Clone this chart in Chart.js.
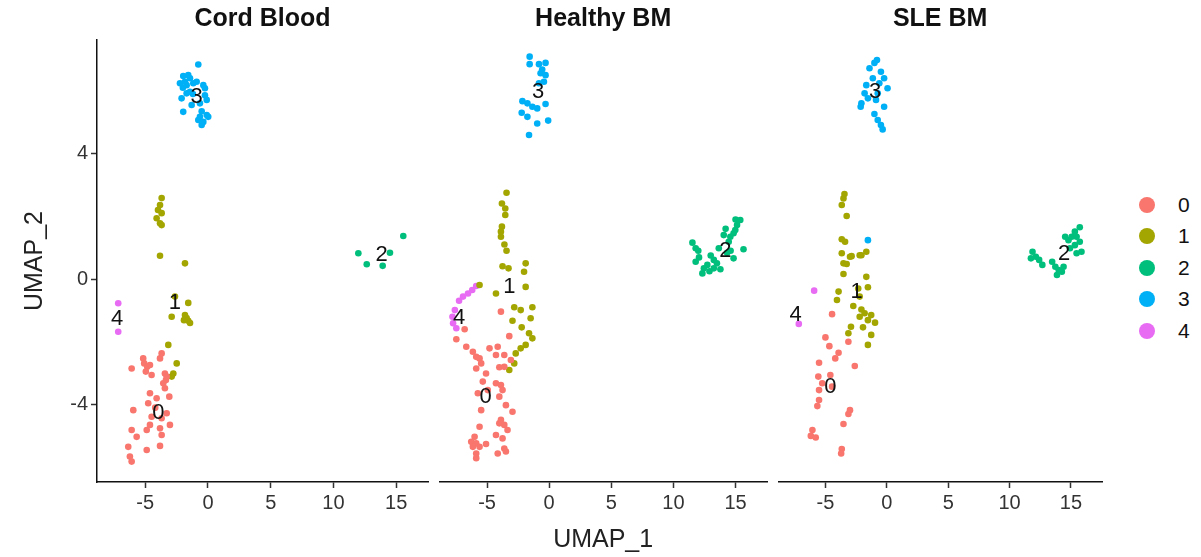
<!DOCTYPE html>
<html>
<head>
<meta charset="utf-8">
<script src="https://cdn.jsdelivr.net/npm/chart.js@4.4.1/dist/chart.umd.min.js"></script>
<style>
  html, body { margin: 0; padding: 0; background: #fff; }
  #wrap { position: relative; width: 1201px; height: 557px; overflow: hidden; font-family: 'Liberation Sans', Arial, sans-serif; }
  .panel { position: absolute; top: 0; }
  #legend { position: absolute; left: 1139px; top: 189px; }
  .key { display: flex; align-items: center; height: 31.5px; }
  .dot { width: 16px; height: 16px; border-radius: 50%; margin-right: 23px; }
  .key span { font-size: 21px; color: #111; }
</style>
</head>
<body>
<div id="wrap">
  <canvas id="p0" class="panel" style="left:0px" width="440" height="557"></canvas>
  <canvas id="p1" class="panel" style="left:436px" width="340" height="557"></canvas>
  <canvas id="p2" class="panel" style="left:775px" width="340" height="557"></canvas>
  <div id="legend"></div>
</div>
<script>
// Facets, clusters and axis ticks
const panelTitles = ['Cord Blood', 'Healthy BM', 'SLE BM'];
const clusters = ['0', '1', '2', '3', '4'];
const clusterColors = ['#F8766D', '#A3A500', '#00BF7D', '#00B0F6', '#E76BF3'];
const xTicks = [-5, 0, 5, 10, 15];
const yTicks = [-4, 0, 4];
const xRange = [-8.84, 17.53];
const yRange = [-6.47, 7.62];

// Cord Blood cells, one array per cluster: [UMAP_1, UMAP_2]
const cord0 = [[-6.08,-2.85],[-5.16,-2.53],[-5.08,-2.69],[-4.84,-2.80],[-4.62,-2.74],[-4.49,-3.06],[-3.82,-2.53],
  [-3.69,-2.37],[-3.43,-3.01],[-3.35,-3.22],[-3.56,-3.32],[-3.43,-3.48],[-3.08,-3.75],[-4.62,-3.64],[-4.09,-3.80],
  [-4.76,-3.96],[-5.95,-4.18],[-3.29,-4.28],[-4.49,-4.39],[-3.69,-4.44],[-3.03,-4.65],[-4.62,-4.65],[-4.88,-4.81],
  [-6.08,-4.81],[-3.82,-4.76],[-5.68,-5.03],[-3.69,-4.97],[-6.35,-5.35],[-4.88,-5.45],[-3.82,-5.32],[-6.22,-5.66],
  [-6.08,-5.82],[-3.29,-3.11],[-4.95,-2.95],[-4.20,-4.10]];
const cord1 = [[-3.69,2.58],[-3.82,2.36],[-3.98,2.20],[-3.69,2.10],[-4.09,1.94],[-3.82,1.78],[-3.69,1.72],[-3.82,0.74],
  [-1.83,0.50],[-2.63,-0.56],[-1.57,-0.76],[-2.89,-1.20],[-1.83,-1.15],[-1.70,-1.24],[-1.57,-1.33],[-1.43,-1.40],
  [-1.91,-1.31],[-3.16,-2.10],[-2.49,-2.69],[-2.76,-3.01],[-2.89,-3.11]];
const cord2 = [[11.98,0.82],[12.65,0.47],[13.92,0.42],[14.50,0.84],[15.56,1.37]];
const cord3 = [[-0.77,6.84],[-1.97,6.47],[-1.57,6.50],[-1.43,6.40],[-1.83,6.29],[-2.23,6.24],[-1.70,6.18],[-1.17,6.24],
  [-0.90,6.29],[-0.37,6.18],[-0.24,6.08],[-2.10,5.76],[-1.70,5.92],[-1.43,5.97],[-0.24,5.86],[-0.10,5.71],[-1.97,5.33],
  [-1.30,5.55],[-0.64,5.60],[-0.77,5.07],[-0.37,5.01],[-0.10,5.23],[-0.50,4.91],[-0.64,5.17],[0.02,5.17],[-2.00,6.10],
  [-1.20,5.90],[-0.50,5.35]];
const cord4 = [[-7.15,-0.77],[-7.15,-1.68]];
const cordSpots = [[-3.96,-4.28],[-2.63,-0.77],[13.84,0.76],[-0.90,5.80],[-7.23,-1.28]];

// Healthy BM cells
const healthy0 = [[-3.88,-1.04],[-3.21,-1.82],[-6.80,-1.60],[-7.47,-1.92],[-6.67,-2.16],[-6.14,-2.32],[-5.87,-2.48],
  [-5.60,-2.53],[-5.47,-2.69],[-4.80,-2.21],[-4.14,-2.16],[-4.28,-2.42],[-3.61,-2.42],[-3.08,-2.58],[-4.01,-2.81],
  [-3.61,-2.80],[-5.87,-2.85],[-5.08,-3.01],[-5.34,-3.27],[-4.28,-3.32],[-3.88,-3.38],[-3.75,-3.54],[-4.94,-3.54],
  [-5.74,-3.64],[-4.01,-3.75],[-3.48,-4.02],[-2.95,-4.23],[-5.47,-4.18],[-3.88,-4.49],[-4.01,-4.60],[-3.61,-4.65],
  [-3.35,-4.81],[-5.60,-4.71],[-4.28,-4.97],[-3.75,-5.08],[-6.00,-5.03],[-6.27,-5.19],[-5.87,-5.24],[-6.14,-5.35],
  [-5.60,-5.35],[-5.08,-5.26],[-3.61,-5.40],[-3.48,-5.50],[-5.87,-5.56],[-5.87,-5.71],[-4.14,-5.56]];
const healthy1 = [[-3.43,2.75],[-3.80,2.41],[-3.53,2.25],[-3.53,2.04],[-3.80,1.67],[-3.88,1.51],[-3.88,1.35],[-3.43,0.90],
  [-3.60,1.10],[-3.75,0.41],[-3.27,0.34],[-1.89,0.50],[-2.02,0.23],[-5.60,-0.19],[-4.28,-0.46],[-1.89,-0.25],
  [-2.81,-0.90],[-2.29,-0.99],[-1.35,-0.90],[-2.95,-1.33],[-1.49,-1.25],[-2.21,-1.54],[-1.62,-1.73],[-1.35,-1.89],
  [-1.89,-2.10],[-2.29,-2.21],[-2.69,-2.37],[-2.81,-2.69],[-3.21,-2.90]];
const healthy2 = [[15.38,1.88],[15.12,1.72],[14.98,1.56],[14.84,1.46],[14.58,1.35],[11.53,1.16],[11.79,0.98],[14.05,1.40],
  [13.65,0.98],[14.45,1.19],[15.64,0.95],[14.84,0.66],[12.06,0.69],[11.79,0.55],[12.73,0.45],[12.45,0.34],[13.25,0.34],
  [13.78,0.31],[12.33,0.18],[13.25,0.61],[14.32,0.84],[12.90,0.25],[13.50,0.50],[14.20,1.60],[15.00,1.90],[12.00,0.90],
  [14.60,0.90],[13.00,0.75]];
const healthy3 = [[-1.57,7.09],[-1.57,6.85],[-0.82,6.85],[-0.29,6.89],[-0.56,6.68],[-0.69,6.56],[-0.29,6.50],[-0.42,6.29],
  [-0.82,6.24],[-2.15,5.67],[-1.75,5.60],[-1.35,5.49],[-0.96,5.44],[-0.29,5.58],[-2.21,5.30],[-1.75,5.17],[-0.96,4.96],
  [-0.08,5.05],[-1.62,4.59]];
const healthy4 = [[-5.87,-0.22],[-6.19,-0.35],[-6.53,-0.46],[-6.93,-0.56],[-7.25,-0.69],[-7.59,-0.99],[-7.78,-1.20],
  [-7.73,-1.41],[-7.47,-1.57]];
const healthySpots = [[-5.12,-3.75],[-3.21,-0.26],[14.18,0.90],[-0.88,5.97],[-7.25,-1.25]];

// SLE BM cells
const sle0 = [[-4.46,-1.12],[-5.00,-1.86],[-4.68,-2.14],[-3.13,-2.00],[-3.93,-2.35],[-4.20,-2.53],[-5.52,-2.67],
  [-2.61,-2.77],[-5.58,-3.11],[-4.60,-3.06],[-5.26,-3.32],[-5.52,-3.54],[-4.46,-3.43],[-5.52,-3.86],[-5.66,-4.05],
  [-3.00,-4.18],[-3.13,-4.30],[-3.53,-4.62],[-6.06,-4.81],[-6.19,-5.00],[-5.79,-5.05],[-3.67,-5.42],[-3.72,-5.56]];
const sle1 = [[-3.45,2.71],[-3.53,2.57],[-3.67,2.36],[-3.27,2.01],[-3.67,1.27],[-3.40,1.19],[-3.67,0.82],[-2.87,0.73],
  [-2.07,0.76],[-1.67,0.87],[-3.53,0.50],[-3.00,0.71],[-2.21,0.76],[-3.27,0.48],[-3.53,0.16],[-1.67,0.07],[-3.93,-0.40],
  [-4.06,-0.67],[-2.33,-0.30],[-1.54,-0.26],[-2.21,-0.56],[-2.73,-0.86],[-2.07,-0.97],[-1.81,-1.09],[-1.27,-1.15],
  [-2.21,-1.20],[-1.54,-1.31],[-0.96,-1.39],[-2.92,-1.52],[-1.94,-1.54],[-3.13,-1.73],[-1.27,-1.78],[-1.54,-2.10]];
const sle2 = [[15.72,1.65],[15.32,1.51],[15.06,1.35],[15.46,1.35],[14.80,1.24],[14.53,1.35],[15.72,1.19],[15.32,1.08],
  [15.86,0.87],[15.46,0.82],[14.92,0.98],[11.87,0.87],[12.14,0.71],[12.41,0.61],[12.67,0.45],[11.74,0.66],[13.47,0.55],
  [13.73,0.39],[14.00,0.29],[13.86,0.13],[14.26,0.23],[14.40,0.39]];
const sle3 = [[-0.80,6.98],[-1.01,6.89],[-1.41,6.72],[-0.48,6.61],[-1.14,6.40],[-0.22,6.40],[-1.67,6.18],[0.06,6.08],
  [-1.81,5.92],[-0.74,5.92],[-1.54,5.76],[-0.88,5.71],[-2.07,5.60],[-2.13,5.49],[-0.22,5.49],[-1.01,5.26],[-0.74,5.07],
  [-0.48,4.91],[-0.34,4.77],[-0.61,6.24],[-1.54,1.24]];
const sle4 = [[-5.92,-0.37],[-7.17,-1.43]];
const sleSpots = [[-4.60,-3.43],[-2.47,-0.40],[14.45,0.80],[-0.96,5.97],[-7.43,-1.15]];

const panelCells = [
  [cord0, cord1, cord2, cord3, cord4],
  [healthy0, healthy1, healthy2, healthy3, healthy4],
  [sle0, sle1, sle2, sle3, sle4]
];
const panelSpots = [cordSpots, healthySpots, sleSpots];

const FONT = "'Liberation Sans', Arial, sans-serif";
const charts = {};

// Black cluster numbers at each cluster's label position
const clusterLabels = {
  id: 'clusterLabels',
  afterDatasetsDraw(chart, args, opts) {
    const { ctx, scales: { x, y } } = chart;
    ctx.save();
    ctx.font = `22px ${FONT}`;
    ctx.fillStyle = '#111';
    ctx.textAlign = 'center';
    ctx.textBaseline = 'middle';
    opts.spots.forEach((p, i) => ctx.fillText(clusters[i], x.getPixelForValue(p[0]), y.getPixelForValue(p[1])));
    ctx.restore();
  }
};

// Facet strip title above the chart area
const stripTitle = {
  id: 'stripTitle',
  afterDraw(chart, args, opts) {
    const { ctx, chartArea } = chart;
    ctx.save();
    ctx.font = `bold 25px ${FONT}`;
    ctx.fillStyle = '#111';
    ctx.textAlign = 'center';
    ctx.textBaseline = 'middle';
    ctx.fillText(opts.text, (chartArea.left + chartArea.right) / 2, 19);
    ctx.restore();
  }
};

function buildPanel(i, padRight) {
  const first = i === 0;
  const datasets = panelCells[i].map((pts, c) => ({
    label: clusters[c],
    data: pts.map(p => ({ x: p[0], y: p[1] })),
    backgroundColor: clusterColors[c],
    borderWidth: 0,
    pointRadius: 3.3,
    pointHoverRadius: 3.3
  }));

  charts[i] = new Chart(document.getElementById('p' + i), {
    type: 'scatter',
    data: { datasets },
    options: {
      responsive: false,
      animation: false,
      events: [],
      layout: { padding: { top: 40, right: padRight, left: 0, bottom: 0 } },
      plugins: {
        legend: { display: false },
        tooltip: { enabled: false },
        clusterLabels: { spots: panelSpots[i] },
        stripTitle: { text: panelTitles[i] }
      },
      scales: {
        x: {
          type: 'linear',
          min: xRange[0],
          max: xRange[1],
          afterBuildTicks: s => { s.ticks = xTicks.map(v => ({ value: v })); },
          afterFit: s => { s.height = 75; },
          ticks: { autoSkip: false, maxRotation: 0, padding: 3, color: '#333', font: { family: FONT, size: 20 } },
          grid: { drawOnChartArea: false, drawTicks: true, tickLength: 6, tickWidth: 1.5, tickColor: '#333' },
          border: { display: true, color: '#111', width: 1.5 },
          title: {
            display: i === 1,
            text: 'UMAP_1',
            color: '#222',
            padding: { top: 0, bottom: 2 },
            font: { family: FONT, size: 25 }
          }
        },
        y: {
          type: 'linear',
          display: first,
          min: yRange[0],
          max: yRange[1],
          afterBuildTicks: s => { s.ticks = yTicks.map(v => ({ value: v })); },
          afterFit: s => { s.width = first ? 97 : 0; },
          ticks: { autoSkip: false, padding: 3, color: '#333', font: { family: FONT, size: 20 } },
          grid: { drawOnChartArea: false, drawTicks: true, tickLength: 6, tickWidth: 1.5, tickColor: '#333' },
          border: { display: true, color: '#111', width: 1.5 },
          title: {
            display: true,
            text: 'UMAP_2',
            color: '#222',
            padding: { top: 20, bottom: 0 },
            font: { family: FONT, size: 25 }
          }
        }
      }
    },
    plugins: [clusterLabels, stripTitle]
  });
}

buildPanel(0, 12);
buildPanel(1, 9);
buildPanel(2, 13);

// Legend keys
const legend = document.getElementById('legend');
clusters.forEach((c, i) => {
  const row = document.createElement('div');
  row.className = 'key';
  row.innerHTML = `<div class="dot" style="background:${clusterColors[i]}"></div><span>${c}</span>`;
  legend.appendChild(row);
});
</script>
</body>
</html>
